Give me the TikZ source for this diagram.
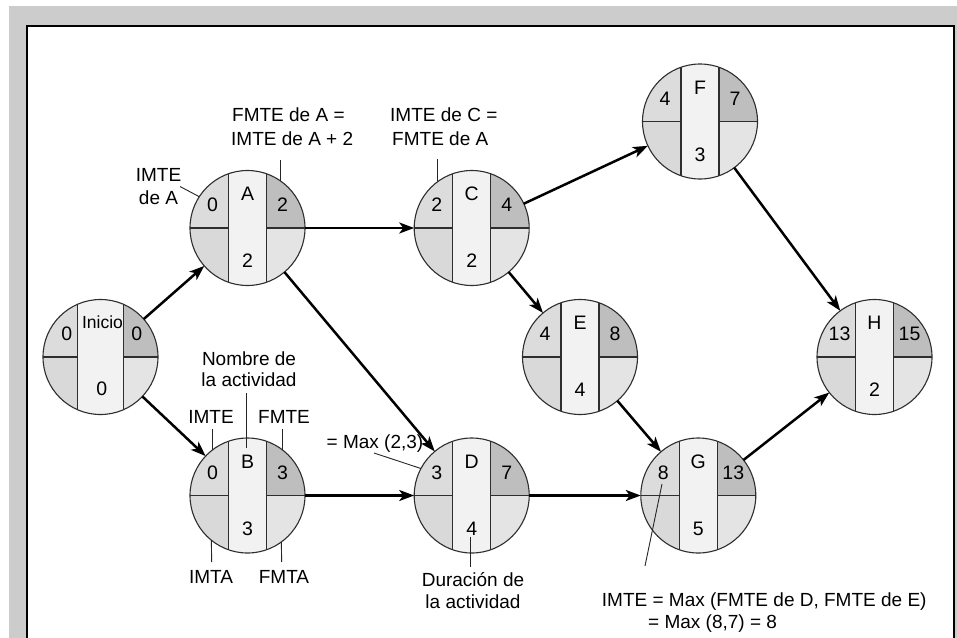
\documentclass[tikz,border=0pt]{standalone}
\usepackage{fontspec}
\setmainfont{Liberation Sans}
\usetikzlibrary{arrows.meta,calc}
\definecolor{qlt}{HTML}{DCDCDC}
\definecolor{qrt}{HTML}{BEBEBE}
\definecolor{qlb}{HTML}{D9D9D9}
\definecolor{qrb}{HTML}{E4E4E4}
\definecolor{qst}{HTML}{F2F2F2}
\definecolor{outl}{HTML}{2E2E2E}
\definecolor{framegray}{HTML}{CCCCCC}
\def\shw{19pt}
\newcommand\actfill{%
  \fill[qlt] (path picture bounding box.north west) rectangle (path picture bounding box.center);
  \fill[qrt] (path picture bounding box.north east) rectangle (path picture bounding box.center);
  \fill[qlb] (path picture bounding box.south west) rectangle (path picture bounding box.center);
  \fill[qrb] (path picture bounding box.south east) rectangle (path picture bounding box.center);
  \fill[qst] ([xshift=-\shw]path picture bounding box.north) rectangle ([xshift=\shw]path picture bounding box.south);
  \draw[outl,line width=1.1pt] (path picture bounding box.west) -- ([xshift=-\shw]path picture bounding box.center);
  \draw[outl,line width=1.1pt] ([xshift=\shw]path picture bounding box.center) -- (path picture bounding box.east);
  \draw[outl,line width=1.1pt] ([xshift=-\shw]path picture bounding box.north) -- ([xshift=-\shw]path picture bounding box.south);
  \draw[outl,line width=1.1pt] ([xshift=\shw]path picture bounding box.north) -- ([xshift=\shw]path picture bounding box.south);
}
\newcommand\actnode[6]{%
  \node[actnode] (#1) at (#2) {};
  \node[ntxt] (#1-t) at ($(#1)+(0,-34)$) {#3};
  \node[ntxt] (#1-l) at ($(#1)+(-35,-23)$) {#4};
  \node[ntxt] (#1-r) at ($(#1)+(35,-23)$) {#5};
  \node[ntxt] (#1-d) at ($(#1)+(0,33)$) {#6};
}
\begin{document}
\begin{tikzpicture}[x=1pt,y=-1pt,
  actnode/.style={circle, minimum size=115pt, inner sep=0pt, outer sep=0pt,
    draw=outl, line width=1.1pt, path picture={\actfill}},
  ntxt/.style={inner sep=0pt, font=\fontsize{19.5}{22}\selectfont},
  lab/.style={inner sep=0pt, font=\fontsize{19}{22}\selectfont},
  arr/.style={line width=2.5pt, -{Stealth[length=15pt,width=11pt,inset=4pt]}},
  lead/.style={line width=0.9pt, draw=black!85}]
\useasboundingbox (0,0) rectangle (957,637);
\fill[white] (0,0) rectangle (957,637);
\fill[framegray] (9,6) rectangle (960,640);
\draw[line width=2pt, fill=white] (27,26) rectangle (953.5,660);

% activity nodes
\begin{scope}
\def\shw{23.3pt}
\node[actnode] (Inicio) at (100.5,357) {};
\end{scope}
\node[ntxt, font=\fontsize{17.5}{22}\selectfont] (Inicio-t) at (102.5,322) {Inicio};
\node[ntxt] (Inicio-l) at (66.7,333.5) {0};
\node[ntxt] (Inicio-r) at (136.7,333.5) {0};
\node[ntxt] (Inicio-d) at (101.7,388.3) {0};

\actnode{A}{247.5,228}{A}{0}{2}{2}
\actnode{B}{247.5,495.5}{B}{0}{3}{3}
\actnode{C}{471.7,228}{C}{2}{4}{2}
\actnode{D}{471.7,495.5}{D}{3}{7}{4}
\actnode{E}{580,357}{E}{4}{8}{4}
\actnode{F}{700,121.5}{F}{4}{7}{3}
\actnode{G}{698.3,495.5}{G}{8}{13}{5}
\actnode{H}{874.5,357}{H}{13}{15}{2}

% arrows
\draw[arr] (Inicio) -- (A);
\draw[arr] (Inicio) -- (B);
\draw[arr] (A) -- (C);
\draw[arr] (A) -- (D);
\draw[arr] (B) -- (D);
\draw[arr] (C) -- (F);
\draw[arr] (C) -- (E);
\draw[arr] (D) -- (G);
\draw[arr] (E) -- (G);
\draw[arr] (F) -- (H);
\draw[arr] (G) -- (H);

% annotations
\node[lab, anchor=base] (la1) at (158.5,181.7) {IMTE};
\node[lab, anchor=base] (la2) at (158.5,204) {de A};
\coordinate (la-end) at (180,186.5);
\draw[lead] (la-end) -- (A.147);

\node[lab, anchor=base west] (lb1) at (232,121.7) {FMTE de A =};
\node[lab, anchor=base west] (lb2) at (231,145) {IMTE de A + 2};
\draw[lead] (A.55.6) -- ++(0,-21);

\node[lab, anchor=base west] (lc1) at (390,121.7) {IMTE de C =};
\node[lab, anchor=base west] (lc2) at (392,145) {FMTE de A};
\draw[lead] (C.126.7) -- ++(0,-22);

\node[lab, anchor=base] (ln1) at (249,365) {Nombre de};
\node[lab, anchor=base] (ln2) at (249,386.7) {la actividad};
\coordinate (ln-top) at (246,393);
\coordinate (ln-bot) at (246,448);
\draw[lead] (ln-top) -- (ln-bot);

\node[lab, anchor=base] (li1) at (211,423.3) {IMTE};
\node[lab, anchor=base] (lf1) at (284,423.3) {FMTE};
\draw[lead] (B.128.5) -- ++(0,-21);
\draw[lead] (B.53.5) -- ++(0,-21);
\node[lab, anchor=base] (li2) at (211,583.3) {IMTA};
\node[lab, anchor=base] (lf2) at (284,583.3) {FMTA};
\draw[lead] (B.231.5) -- (211.7,562);
\draw[lead] (B.306.5) -- (281.7,562);

\node[lab, anchor=base east] (lm) at (423.5,448) {= Max (2,3)};
\coordinate (lm-end) at (374,453);
\draw[lead] (lm-end) -- (D.152.2);

\node[lab, anchor=base] (ld1) at (473,586) {Duración de};
\node[lab, anchor=base] (ld2) at (473,608) {la actividad};
\coordinate (ld-top) at (470.7,537);
\coordinate (ld-bot) at (470.7,567);
\draw[lead] (ld-top) -- (ld-bot);

\node[lab, anchor=base west] (lg1) at (601.7,606) {IMTE = Max (FMTE de D, FMTE de E)};
\node[lab, anchor=base west] (lg2) at (648,628) {= Max (8,7) = 8};
\coordinate (lg-top) at (662,484);
\coordinate (lg-bot) at (645,566);
\draw[lead] (lg-top) -- (lg-bot);
\end{tikzpicture}
\end{document}
